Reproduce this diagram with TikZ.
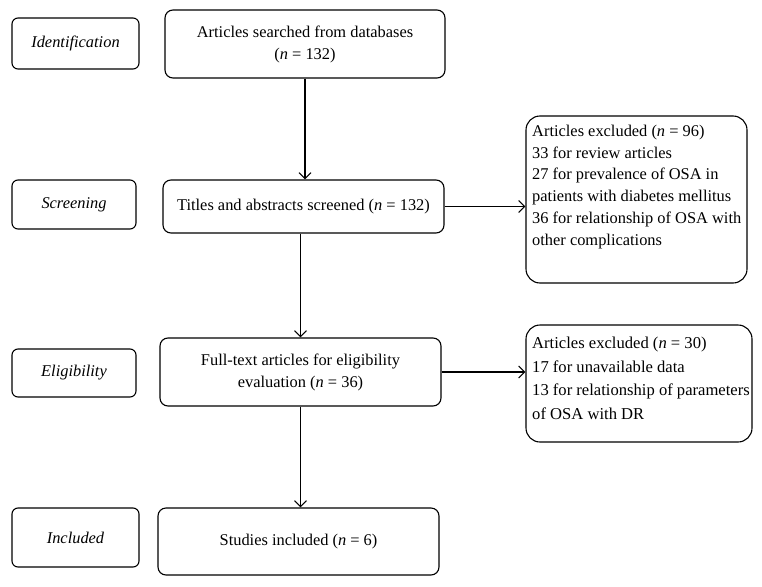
\documentclass[tikz,border=0pt]{standalone}
\usepackage{fontspec}
\setmainfont{Liberation Serif}
\usetikzlibrary{arrows.meta}
\begin{document}
\begin{tikzpicture}[x=1pt,y=-1pt,
  every node/.style={font=\fontsize{16.4}{22}\selectfont},
  stagebox/.style={draw, line width=1.1pt, rounded corners=6pt, inner sep=0pt, font=\fontsize{16.4}{22}\selectfont\itshape},
  mainbox/.style={draw, line width=1.1pt, rounded corners=8pt, inner sep=0pt, align=center},
  exbox/.style={draw, line width=1.1pt, rounded corners=14pt, inner sep=0pt},
  extext/.style={anchor=north west, inner sep=0pt, align=left},
  flow/.style={line width=1.1pt, -{Straight Barb[length=6pt,width=12pt,line width=1.1pt]}}
]
\useasboundingbox (0,0) rectangle (762,586);

% stage labels
\node[stagebox, minimum width=127pt, minimum height=51pt] (id) at (75.5,43.5) {Identification};
\node[stagebox, minimum width=124pt, minimum height=49pt] (scr) at (74,204.5) {Screening};
\node[stagebox, minimum width=124pt, minimum height=48pt] (eli) at (74,373) {Eligibility};
\node[stagebox, minimum width=127pt, minimum height=59pt] (inc) at (75.5,537.5) {Included};

% main flow
\node[mainbox, minimum width=280pt, minimum height=68pt] (a1) at (305,44)
  {Articles searched from databases\\(\textit{n} = 132)};
\node[mainbox, minimum width=281pt, minimum height=53pt] (a2) at (303.5,206.5)
  {Titles and abstracts screened (\textit{n} = 132)};
\node[mainbox, minimum width=281pt, minimum height=68pt] (a3) at (300.5,372)
  {Full-text articles for eligibility\\evaluation (\textit{n} = 36)};
\node[mainbox, minimum width=281pt, minimum height=67pt] (a4) at (298.5,541.5)
  {Studies included (\textit{n} = 6)};

% exclusion boxes
\node[exbox, minimum width=221pt, minimum height=167pt] (ex1) at (636.5,199.5) {};
\node[extext, font=\fontsize{16.4}{21.7}\selectfont] (ex1t) at (532,125)
  {Articles excluded (\textit{n} = 96)\\33 for review articles\\27 for prevalence of OSA in\\patients with diabetes mellitus\\36 for relationship of OSA with\\other complications};
\node[exbox, minimum width=226pt, minimum height=117pt] (ex2) at (639,383.5) {};
\node[extext, font=\fontsize{16.6}{23.5}\selectfont] (ex2t) at (532,337)
  {Articles excluded (\textit{n} = 30)\\17 for unavailable data\\13 for relationship of parameters\\of OSA with DR};

% connectors
\draw[flow] (a1.south) -- (a1.south |- a2.north);
\draw[flow] (a2.south -| a3.north) -- (a3.north);
\draw[flow] (a3.south) -- (a3.south |- a4.north);
\draw[flow] (a2.east) -- (a2.east -| ex1.west);
\draw[flow] (a3.east) -- (a3.east -| ex2.west);
\end{tikzpicture}
\end{document}
